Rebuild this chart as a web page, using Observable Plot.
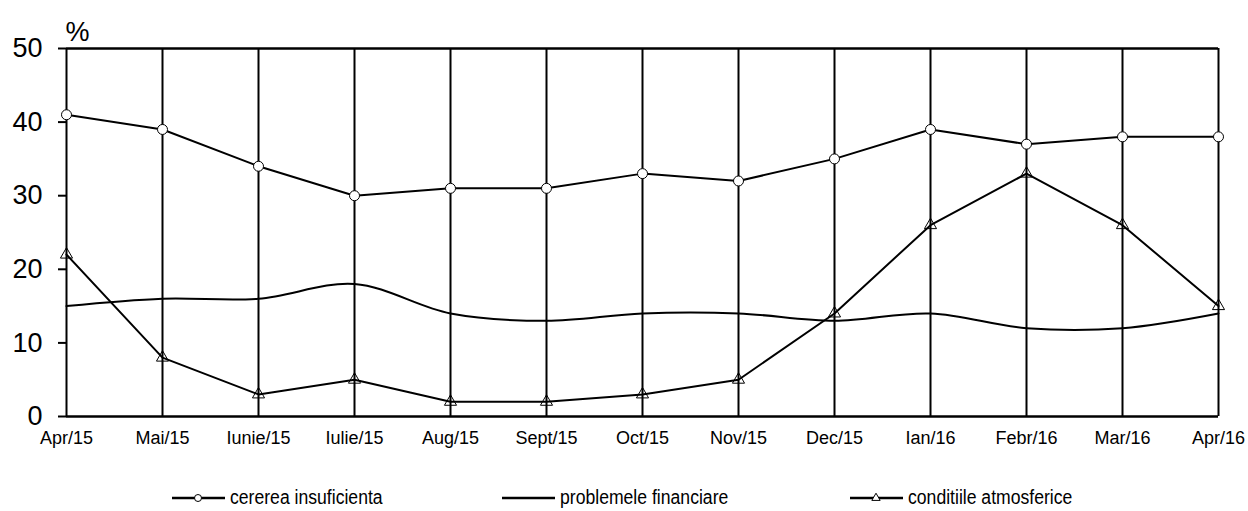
<!DOCTYPE html>
<html><head><meta charset="utf-8">
<script src="https://cdn.jsdelivr.net/npm/d3@7"></script>
<script src="https://cdn.jsdelivr.net/npm/@observablehq/plot@0.6"></script>
<style>
body{margin:0;background:#fff;font-family:"Liberation Sans",Arial,sans-serif;}
#chart svg{display:block;}
#legend{position:relative;height:51px;font-family:"Liberation Sans",Arial,sans-serif;font-size:20px;color:#000;}
.item{position:absolute;top:26px;height:22px;}
.item svg{position:absolute;left:0;top:4px;}
.item span{position:absolute;left:58px;top:0;line-height:22px;white-space:nowrap;transform:scaleX(0.88);transform-origin:0 50%;}
</style></head><body>
<div id="chart"></div>
<div id="legend"></div>
<script>
const months = ["Apr/15","Mai/15","Iunie/15","Iulie/15","Aug/15","Sept/15","Oct/15","Nov/15","Dec/15","Ian/16","Febr/16","Mar/16","Apr/16"];
const cererea = [41,39,34,30,31,31,33,32,35,39,37,38,38];
const problemele = [15,16,16,18,14,13,14,14,13,14,12,12,14];
const conditii = [22,8,3,5,2,2,3,5,14,26,33,26,15];
const seriesNames = ["cererea insuficienta","problemele financiare","conditiile atmosferice"];
const yTicks = [0,10,20,30,40,50];

const rows = (vals) => months.map((m,i)=>({m, v: vals[i]}));
const A = rows(cererea), B = rows(problemele), C = rows(conditii);

const chart = Plot.plot({
  width: 1248, height: 460,
  marginLeft: 66, marginRight: 30, marginTop: 48, marginBottom: 44,
  style: {fontFamily: "'Liberation Sans', Arial, sans-serif", color: "#000", background: "#fff"},
  x: {type: "point", domain: months, padding: 0, label: null},
  y: {domain: [0,50], label: null},
  marks: [
    Plot.ruleX(months, {x: d=>d, y1: 0, y2: 50, stroke: "#000", strokeWidth: 2}),
    Plot.ruleY(yTicks.filter(t => t === 0 || t === 50), {y: d=>d, stroke: "#000", strokeWidth: 2.5}),
    Plot.axisY(yTicks, {tickSize: 8, tickPadding: 16, fontSize: 27, stroke: "#000", strokeWidth: 2, label: null}),
    Plot.axisX(months, {tickSize: 0, tickPadding: 15, fontSize: 18, label: null}),
    Plot.line(B, {x: "m", y: "v", stroke: "#000", strokeWidth: 2, curve: "catmull-rom"}),
    Plot.line(A, {x: "m", y: "v", stroke: "#000", strokeWidth: 2}),
    Plot.line(C, {x: "m", y: "v", stroke: "#000", strokeWidth: 2}),
    Plot.dot(A, {x: "m", y: "v", r: 5, fill: "#fff", stroke: "#000", strokeWidth: 1}),
    Plot.dot(C, {x: "m", y: "v", r: 4.5, symbol: "triangle", fill: "none", stroke: "#000", strokeWidth: 1}),
    Plot.text(["%"], {frameAnchor: "top-left", dx: -1, dy: -8, fontSize: 27, text: d=>d, textAnchor: "start", lineAnchor: "bottom"})
  ]
});
document.getElementById("chart").appendChild(chart);

// legend
const leg = document.getElementById("legend");
const pos = [172, 502, 850];
const sym = ["circle", "none", "triangle"];
seriesNames.forEach((name,i)=>{
  const div = document.createElement("div");
  div.className = "item";
  div.style.left = pos[i] + "px";
  const s = d3.create("svg").attr("width", 54).attr("height", 14);
  s.append("line").attr("x1",0).attr("x2",53).attr("y1",8).attr("y2",8).attr("stroke","#000").attr("stroke-width",2.5);
  if (sym[i] === "circle") s.append("circle").attr("cx",26).attr("cy",8).attr("r",3.5).attr("fill","#fff").attr("stroke","#000");
  if (sym[i] === "triangle") s.append("path").attr("d", d3.symbol(d3.symbolTriangle, 30)()).attr("transform","translate(26,8)").attr("fill","#fff").attr("stroke","#000");
  div.appendChild(s.node());
  const t = document.createElement("span"); t.textContent = name; div.appendChild(t);
  leg.appendChild(div);
});
</script>
</body></html>
